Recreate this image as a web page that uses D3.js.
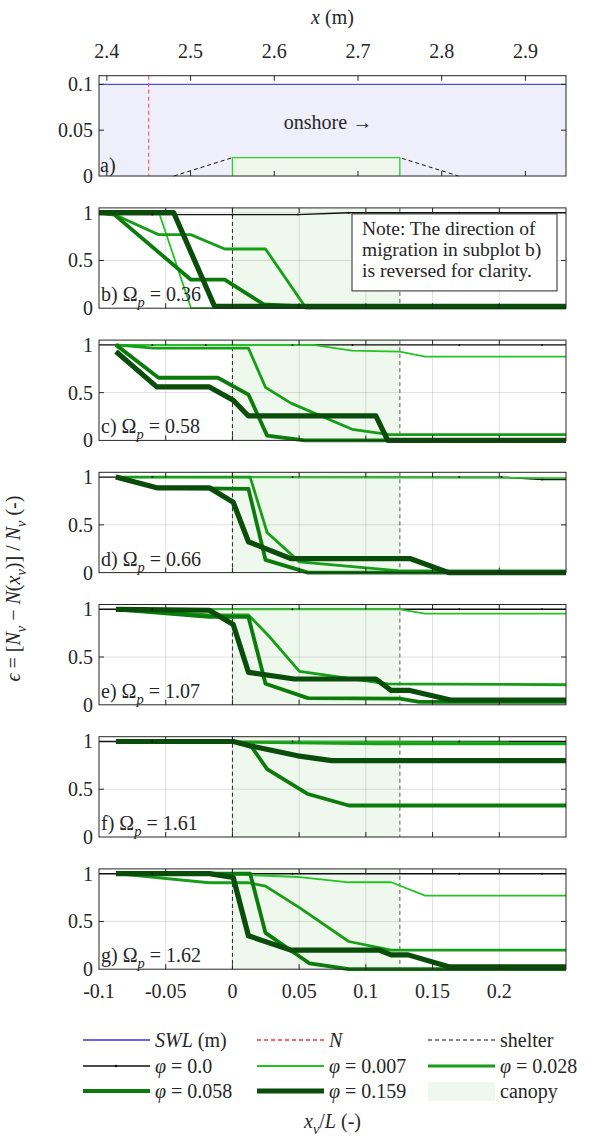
<!DOCTYPE html>
<html>
<head>
<meta charset="utf-8">
<script src="https://cdn.jsdelivr.net/npm/d3@7"></script>
<style>
  body { margin: 0; background: #fff; }
  svg text { fill: #262626; }
</style>
</head>
<body>
<div id="chart"></div>
<script>
const W = 592, H = 1140;
const left = 99, right = 566;
const top0 = 75.7, step = 132.2, panelH = 100.3;

// axes
const xvDomain = [-0.1, 0.25];
const xvTicks = [-0.1, -0.05, 0, 0.05, 0.1, 0.15, 0.2];
const xTicks = [2.4, 2.5, 2.6, 2.7, 2.8, 2.9];
const canopyStart = 2.55;   // m
const waveL = 1.594;        // m, x = canopyStart + xv * L
const canopyEndXv = 0.1255;
const aYTicks = [0, 0.05, 0.1];
const aYTickLabels = ['0', '0.05', '0.1'];
const eYTicks = [0, 0.5, 1];
const eYTickLabels = ['0', '0.5', '1'];

// panel a
const swlLevel = 0.1;
const nPos = 2.45;
const shelterX = [2.48, 2.55, 2.75, 2.82];
const shelterZ = [0, 0.02, 0.02, 0];

const phiLabels = ['0.0', '0.007', '0.028', '0.058', '0.159'];
const phiColors = ['#111111', '#22c322', '#169e16', '#0b7c0b', '#0a4c0a'];
const phiWidths = [1.4, 1.8, 2.8, 3.8, 5.2];

const panelNames = ['b', 'c', 'd', 'e', 'f', 'g'];
const omegaP = ['0.36', '0.58', '0.66', '1.07', '1.61', '1.62'];

// [x_v/L, eps] for phi = 0.0, 0.007, 0.028, 0.058, 0.159
const epsB = [
  [[-0.1,0.98],[-0.06,0.98],[0.0,0.98],[0.049,0.98],[0.087,1.0],[0.17,1.0],[0.25,1.0]],
  [[-0.1,1.0],[-0.055,1.0],[-0.031,0.0],[0.25,0.0]],
  [[-0.1,1.0],[-0.0885,0.98],[-0.0554,0.77],[-0.0313,0.77],[-0.0058,0.62],[0.0248,0.62],[0.0553,0.0],[0.25,0.0]],
  [[-0.1,1.0],[-0.0885,0.98],[-0.0313,0.30],[-0.0058,0.30],[0.0235,0.04],[0.0553,0.015],[0.25,0.015]],
  [[-0.1,1.0],[-0.044,1.0],[-0.0134,0.02],[0.25,0.02]]
];
const epsC = [
  [[-0.1,1],[-0.06,1],[-0.02,1],[0.045,1],[0.09,1],[0.17,1],[0.232,1],[0.25,1]],
  [[-0.0873,1.0],[0.0604,1.0],[0.0897,0.94],[0.1253,0.93],[0.1444,0.877],[0.25,0.877]],
  [[-0.0873,1.0],[-0.0593,0.965],[0.012,0.965],[0.0248,0.555],[0.0438,0.39],[0.0897,0.116],[0.1177,0.06],[0.25,0.06]],
  [[-0.0873,1.0],[-0.0554,0.656],[-0.0109,0.656],[0.012,0.48],[0.026,0.05],[0.054,0.0],[0.25,0.0]],
  [[-0.0873,0.93],[-0.0567,0.56],[-0.0173,0.56],[0.0006,0.42],[0.012,0.256],[0.1075,0.256],[0.1164,0.0],[0.25,0.0]]
];
const epsD = [
  [[-0.1,1],[-0.06,1],[0.045,1],[0.17,1],[0.2017,1],[0.2322,0.975],[0.25,0.975]],
  [[-0.0873,1.0],[0.25,0.99]],
  [[-0.0873,1.0],[0.0133,1.0],[0.026,0.42],[0.0502,0.112],[0.1253,0.018],[0.25,0.018]],
  [[-0.0873,1.0],[-0.0567,0.888],[0.012,0.877],[0.0248,0.133],[0.0566,0.0],[0.25,0.0]],
  [[-0.0873,1.0],[-0.0567,0.888],[-0.0173,0.888],[0.0006,0.737],[0.012,0.323],[0.0438,0.147],[0.133,0.147],[0.1622,0.0],[0.25,0.0]]
];
const epsE = [
  [[-0.1,1],[-0.06,1],[0.045,1],[0.17,1],[0.232,1],[0.25,1]],
  [[-0.0873,1.0],[0.1253,1.0],[0.1444,0.955],[0.25,0.955]],
  [[-0.0873,1.0],[-0.0173,0.94],[0.012,0.94],[0.0273,0.72],[0.0502,0.35],[0.1164,0.22],[0.25,0.21]],
  [[-0.0873,1.0],[-0.0173,0.92],[0.012,0.92],[0.0248,0.22],[0.0566,0.07],[0.1253,0.065],[0.14,0.03],[0.25,0.03]],
  [[-0.0873,1.0],[-0.0173,0.99],[0.0006,0.84],[0.012,0.34],[0.0464,0.27],[0.1075,0.27],[0.119,0.15],[0.133,0.15],[0.1635,0.05],[0.25,0.05]]
];
const epsF = [
  [[-0.1,1],[-0.06,1],[0.045,1],[0.17,1],[0.25,1]],
  [[-0.0873,1.0],[0.25,0.99]],
  [[-0.0873,1.0],[0.0133,0.99],[0.1075,0.975],[0.25,0.975]],
  [[-0.0873,1.0],[0.0006,1.0],[0.0146,0.94],[0.026,0.71],[0.0566,0.45],[0.0872,0.33],[0.25,0.33]],
  [[-0.0873,1.0],[0.0006,1.0],[0.0133,0.955],[0.0489,0.85],[0.0744,0.80],[0.25,0.80]]
];
const epsG = [
  [[-0.1,1],[-0.06,1],[0.045,1],[0.17,1],[0.232,1],[0.25,1]],
  [[-0.0873,1.0],[0.0133,0.985],[0.0502,0.965],[0.0872,0.91],[0.119,0.91],[0.1444,0.77],[0.25,0.77]],
  [[-0.0873,1.0],[-0.0173,0.905],[0.012,0.905],[0.0248,0.87],[0.0502,0.645],[0.0872,0.29],[0.119,0.2],[0.25,0.2]],
  [[-0.0873,1.0],[0.0133,1.0],[0.0248,0.38],[0.0579,0.06],[0.0872,0.0],[0.25,0.0]],
  [[-0.0873,1.0],[-0.0173,1.0],[0.0006,0.96],[0.012,0.35],[0.0438,0.2],[0.11,0.2],[0.119,0.15],[0.1317,0.15],[0.1622,0.025],[0.25,0.025]]
];
const panels = [epsB, epsC, epsD, epsE, epsF, epsG];

const svg = d3.select('#chart').append('svg')
  .attr('width', W).attr('height', H)
  .attr('font-family', "'Liberation Serif', 'DejaVu Serif', serif");

const xv = d3.scaleLinear().domain(xvDomain).range([left, right]);
const xm = d3.scaleLinear()
  .domain(xvDomain.map(v => canopyStart + v * waveL))
  .range([left, right]);

// text with italic / subscript pieces: [text, flags]  (i = italic, s = subscript)
function rich(sel, parts, size) {
  let down = 0;
  parts.forEach(p => {
    const ts = sel.append('tspan').text(p[0]);
    const f = p[1] || '';
    if (f.includes('i')) ts.attr('font-style', 'italic');
    const want = f.includes('s') ? size * 0.3 : 0;
    if (want !== down) { ts.attr('dy', want - down); down = want; }
    if (f.includes('s')) ts.attr('font-size', size * 0.72);
  });
}

// inward ticks on all four sides, no labels
function boxTicks(g, y, xs, ys, xScale) {
  const [y0, y1] = y.range();
  g.selectAll(null).data(xs).join('path')
    .attr('d', d => `M${xScale(d)},${y0}v-5M${xScale(d)},${y1}v5`)
    .attr('stroke', '#262626').attr('stroke-width', 1);
  g.selectAll(null).data(ys).join('path')
    .attr('d', d => `M${left},${y(d)}h5M${right},${y(d)}h-5`)
    .attr('stroke', '#262626').attr('stroke-width', 1);
}

function yLabels(g, y, ticks, labels) {
  g.selectAll(null).data(ticks).join('text')
    .attr('x', left - 6).attr('y', d => y(d))
    .attr('text-anchor', 'end').attr('dy', '0.35em')
    .attr('font-size', 20)
    .text((d, i) => labels[i]);
}

// ---------- panel a ----------
{
  const t = top0, b = top0 + panelH;
  const y = d3.scaleLinear().domain([0, 0.1095]).range([b, t]);
  const g = svg.append('g');
  g.append('rect').attr('x', left).attr('y', y(swlLevel))
    .attr('width', right - left).attr('height', b - y(swlLevel))
    .attr('fill', '#efeffb');
  // shelter
  const sh = d3.line().x(d => xm(d[0])).y(d => y(d[1]));
  g.append('path').datum(d3.zip(shelterX, shelterZ))
    .attr('d', sh).attr('fill', 'none').attr('stroke', '#111')
    .attr('stroke-width', 1).attr('stroke-dasharray', '4,3');
  // canopy
  g.append('path')
    .attr('d', `M${xm(shelterX[1])},${b}V${y(shelterZ[1])}H${xm(shelterX[2])}V${b}`)
    .attr('fill', '#edf8ea').attr('stroke', '#2fcf2f').attr('stroke-width', 1.3);
  g.append('line').attr('x1', left).attr('x2', right)
    .attr('y1', y(swlLevel)).attr('y2', y(swlLevel))
    .attr('stroke', '#4a4aee').attr('stroke-width', 1.2);
  g.append('line').attr('x1', xm(nPos)).attr('x2', xm(nPos))
    .attr('y1', t).attr('y2', b)
    .attr('stroke', '#ff4040').attr('stroke-width', 1).attr('stroke-dasharray', '4,3');
  g.append('text').attr('x', 328).attr('y', t + 0.465 * panelH).attr('dy', '0.35em')
    .attr('text-anchor', 'middle').attr('font-size', 20).text('onshore \u2192');
  g.append('text').attr('x', left + 1).attr('y', b - 4).attr('font-size', 20).text('a)');
  g.append('rect').attr('x', left).attr('y', t).attr('width', right - left).attr('height', panelH)
    .attr('fill', 'none').attr('stroke', '#262626').attr('stroke-width', 1);
  boxTicks(g, y, xTicks, aYTicks.slice(1), xm);
  yLabels(g, y, aYTicks, aYTickLabels);
  // top x axis labels
  g.selectAll(null).data(xTicks).join('text')
    .attr('x', d => xm(d)).attr('y', 58).attr('text-anchor', 'middle')
    .attr('font-size', 20).text(d => d3.format('.1f')(d));
  const xl = svg.append('text').attr('x', (left + right) / 2).attr('y', 24)
    .attr('text-anchor', 'middle').attr('font-size', 20);
  rich(xl, [['x', 'i'], [' (m)', '']], 20);
}

// ---------- panels b..g ----------
const line = d3.line();
panels.forEach((series, pi) => {
  const t = top0 + step * (pi + 1), b = t + panelH;
  const y = d3.scaleLinear().domain([0, 1.05]).range([b, t]);
  const g = svg.append('g');
  g.append('rect').attr('x', xv(0)).attr('y', t)
    .attr('width', xv(canopyEndXv) - xv(0)).attr('height', panelH)
    .attr('fill', '#eff8ec');
  // grid
  g.selectAll(null).data(xvTicks.slice(1)).join('line')
    .attr('x1', d => xv(d)).attr('x2', d => xv(d)).attr('y1', t).attr('y2', b)
    .attr('stroke', '#000').attr('stroke-opacity', 0.12).attr('stroke-width', 1);
  g.selectAll(null).data([0.5, 1]).join('line')
    .attr('x1', left).attr('x2', right).attr('y1', d => y(d)).attr('y2', d => y(d))
    .attr('stroke', '#000').attr('stroke-opacity', 0.12).attr('stroke-width', 1);
  // canopy edges
  [0, canopyEndXv].forEach((v, k) => {
    g.append('line').attr('x1', xv(v)).attr('x2', xv(v)).attr('y1', t).attr('y2', b)
      .attr('stroke', k ? '#555' : '#222').attr('stroke-width', 1)
      .attr('stroke-dasharray', '4,3');
  });
  // series
  line.x(d => xv(d[0])).y(d => y(d[1]));
  series.forEach((pts, si) => {
    g.append('path').datum(pts).attr('d', line)
      .attr('fill', 'none').attr('stroke', phiColors[si])
      .attr('stroke-width', phiWidths[si]).attr('stroke-linejoin', 'round');
  });
  g.selectAll(null).data(series[0].slice(1, -1)).join('circle')
    .attr('cx', d => xv(d[0])).attr('cy', d => y(d[1])).attr('r', 1).attr('fill', '#111');
  g.append('rect').attr('x', left).attr('y', t).attr('width', right - left).attr('height', panelH)
    .attr('fill', 'none').attr('stroke', '#262626').attr('stroke-width', 1);
  boxTicks(g, y, xvTicks.slice(1), eYTicks.slice(1, 2), xv);
  yLabels(g, y, eYTicks, eYTickLabels);
  const lab = g.append('text').attr('x', left + 2).attr('y', b - 7).attr('font-size', 20);
  rich(lab, [[panelNames[pi] + ') ', ''], ['\u03A9', ''], ['p', 'is'], [' = ' + omegaP[pi], '']], 20);

  if (pi === 0) {
    g.append('rect').attr('x', 352).attr('y', t + 6).attr('width', 205).attr('height', 77)
      .attr('fill', '#fff').attr('stroke', '#262626').attr('stroke-width', 1);
    ['Note: The direction of', 'migration in subplot b)', 'is reversed for clarity.']
      .forEach((s, k) => {
        g.append('text').attr('x', 362).attr('y', t + 20 + k * 21.3).attr('dy', '0.35em')
          .attr('font-size', 19.5).text(s);
      });
  }
  if (pi === panels.length - 1) {
    g.selectAll(null).data(xvTicks).join('text')
      .attr('x', d => xv(d)).attr('y', b + 29).attr('text-anchor', 'middle')
      .attr('font-size', 20).text(d => d === 0 ? '0' : String(d));
  }
});

// y label
const yl = svg.append('text')
  .attr('transform', `translate(20,${top0 + step + (5 * step + panelH) / 2}) rotate(-90)`)
  .attr('text-anchor', 'middle').attr('font-size', 20);
rich(yl, [['\u03F5', 'i'], [' = [', ''], ['N', 'i'], ['v', 'is'], [' \u2212 ', ''], ['N', 'i'], ['(', ''],
  ['x', 'i'], ['v', 'is'], [')] / ', ''], ['N', 'i'], ['v', 'is'], [' (-)', '']], 20);

// x label
const xlb = svg.append('text').attr('x', (left + right) / 2).attr('y', 1128)
  .attr('text-anchor', 'middle').attr('font-size', 20);
rich(xlb, [['x', 'i'], ['v', 'is'], ['/', ''], ['L', 'i'], [' (-)', '']], 20);

// legend
const legCols = [83, 257, 428];
const legRows = [1040, 1066, 1091];
const legItems = [
  { parts: [['SWL', 'i'], [' (m)', '']], stroke: '#3333ee', w: 1.3 },
  { parts: [['N', 'i']], stroke: '#ff3030', w: 1.3, dash: '4,3' },
  { parts: [['shelter', '']], stroke: '#111', w: 1.2, dash: '4,3' },
  ...phiLabels.map((p, i) => ({ parts: [['\u03C6', 'i'], [' = ' + p, '']], stroke: phiColors[i], w: phiWidths[i], marker: i === 0 })),
  { parts: [['canopy', '']], patch: true }
];
legItems.forEach((it, k) => {
  const cx = legCols[k % 3], cy = legRows[Math.floor(k / 3)];
  const g = svg.append('g');
  if (it.patch) {
    g.append('rect').attr('x', cx).attr('y', cy - 9).attr('width', 67).attr('height', 19).attr('fill', '#eff8ec');
  } else {
    g.append('line').attr('x1', cx).attr('x2', cx + 67).attr('y1', cy).attr('y2', cy)
      .attr('stroke', it.stroke).attr('stroke-width', it.w)
      .attr('stroke-dasharray', it.dash || null);
    if (it.marker) g.append('circle').attr('cx', cx + 33).attr('cy', cy).attr('r', 1.3).attr('fill', '#111');
  }
  const tx = g.append('text').attr('x', cx + 72).attr('y', cy).attr('dy', '0.35em').attr('font-size', 20);
  rich(tx, it.parts, 20);
});
</script>
</body>
</html>
